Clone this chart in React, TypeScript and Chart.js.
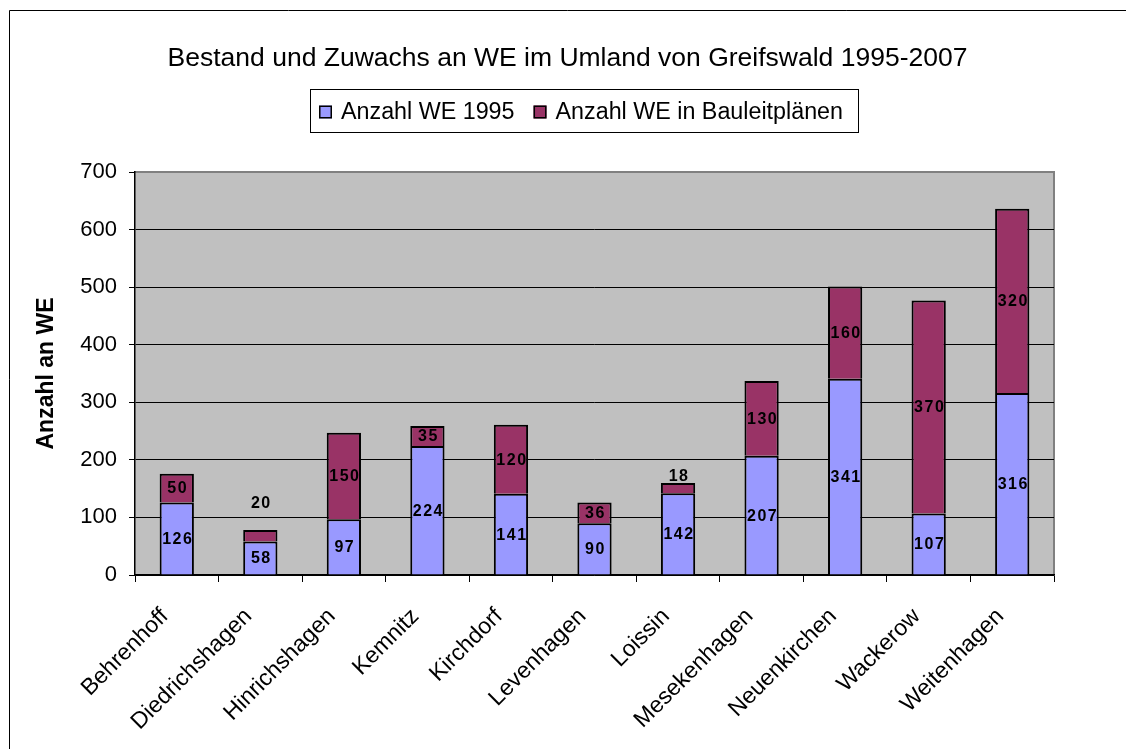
import React, { useEffect, useRef } from 'react';
import { Chart, registerables } from 'chart.js';

Chart.register(...registerables);

const categories = [
  'Behrenhoff',
  'Diedrichshagen',
  'Hinrichshagen',
  'Kemnitz',
  'Kirchdorf',
  'Levenhagen',
  'Loissin',
  'Mesekenhagen',
  'Neuenkirchen',
  'Wackerow',
  'Weitenhagen',
];
const we1995 = [126, 58, 97, 224, 141, 90, 142, 207, 341, 107, 316];
const weBauleit = [50, 20, 150, 35, 120, 36, 18, 130, 160, 370, 320];
const seriesNames = ['Anzahl WE 1995', 'Anzahl WE in Bauleitplänen'];
const yTicks = [0, 100, 200, 300, 400, 500, 600, 700];
const chartTitle = 'Bestand und Zuwachs an WE im Umland von Greifswald 1995-2007';
const yTitle = 'Anzahl an WE';

const FONT = "'Liberation Sans', Arial, sans-serif";

// vertical pixel shifts for labels that Excel moved out of tiny segments
const labelShift: Record<string, number> = { '1-1': -33, '1-6': -12 };

const framePlugin = {
  id: 'framePlugin',
  beforeDraw(chart: any) {
    const { ctx, chartArea: a } = chart;
    ctx.save();
    ctx.fillStyle = '#ffffff';
    ctx.fillRect(0, 0, chart.width, chart.height);
    ctx.strokeStyle = '#000000';
    ctx.lineWidth = 1;
    ctx.beginPath();
    ctx.moveTo(9.5, chart.height);
    ctx.lineTo(9.5, 10.5);
    ctx.lineTo(chart.width, 10.5);
    ctx.stroke();
    ctx.fillStyle = '#C0C0C0';
    ctx.fillRect(a.left, a.top, a.right - a.left, a.bottom - a.top);
    ctx.strokeStyle = '#808080';
    ctx.lineWidth = 2;
    ctx.beginPath();
    ctx.moveTo(a.left, a.top);
    ctx.lineTo(a.right, a.top);
    ctx.lineTo(a.right, a.bottom);
    ctx.stroke();
    ctx.restore();
  },
};

const legendPlugin = {
  id: 'legendPlugin',
  afterDraw(chart: any) {
    const ctx = chart.ctx;
    ctx.save();
    ctx.font = `23.3px ${FONT}`;
    const items = chart.data.datasets.map((ds: any) => ({
      text: ds.label,
      color: ds.backgroundColor,
      w: ctx.measureText(ds.label).width,
    }));
    const padL = 9, sq = 13, gap = 9, between = 19, padR = 15;
    const total =
      padL + padR + items.reduce((s: number, it: any) => s + sq + gap + it.w, 0) + between * (items.length - 1);
    const top = 89, h = 43, cy = 111.5;
    let x = 310;
    ctx.fillStyle = '#ffffff';
    ctx.fillRect(x, top, total, h);
    ctx.strokeStyle = '#000000';
    ctx.lineWidth = 1;
    ctx.strokeRect(x + 0.5, top + 0.5, Math.round(total), h);
    x += padL;
    items.forEach((it: any) => {
      ctx.fillStyle = it.color;
      ctx.fillRect(x, cy - 6, sq, sq);
      ctx.strokeStyle = '#000000';
      ctx.lineWidth = 1.5;
      ctx.strokeRect(x + 0.75, cy - 6 + 0.75, sq - 1.5, sq - 1.5);
      x += sq + gap;
      ctx.fillStyle = '#000000';
      ctx.textAlign = 'left';
      ctx.textBaseline = 'middle';
      ctx.fillText(it.text, x, cy + 1);
      x += it.w + between;
    });
    ctx.restore();
  },
};

const dataLabelPlugin = {
  id: 'dataLabelPlugin',
  afterDatasetsDraw(chart: any) {
    const ctx = chart.ctx;
    ctx.save();
    ctx.font = `bold 16px ${FONT}`;
    (ctx as any).letterSpacing = '1.5px';
    ctx.fillStyle = '#000000';
    ctx.textAlign = 'center';
    ctx.textBaseline = 'middle';
    chart.data.datasets.forEach((ds: any, di: number) => {
      const meta = chart.getDatasetMeta(di);
      meta.data.forEach((bar: any, i: number) => {
        const { x, y, base } = bar.getProps(['x', 'y', 'base'], true);
        const cy = (y + base) / 2 + (labelShift[`${di}-${i}`] || 0);
        ctx.fillText(String(ds.data[i]), x + 1, cy + 1);
      });
    });
    ctx.restore();
  },
};

export default function App() {
  const canvasRef = useRef<HTMLCanvasElement | null>(null);

  useEffect(() => {
    if (!canvasRef.current) return;
    const chart = new Chart(canvasRef.current, {
      type: 'bar',
      data: {
        labels: categories,
        datasets: [
          {
            label: seriesNames[0],
            data: we1995,
            backgroundColor: '#9999FF',
            borderColor: '#000000',
            borderWidth: 2,
            categoryPercentage: 1,
            barPercentage: 0.41,
          },
          {
            label: seriesNames[1],
            data: weBauleit,
            backgroundColor: '#993366',
            borderColor: '#000000',
            borderWidth: 2,
            categoryPercentage: 1,
            barPercentage: 0.41,
          },
        ],
      },
      options: {
        responsive: false,
        animation: false,
        layout: { padding: { left: 9, right: 0, top: 0, bottom: 0 } },
        plugins: {
          legend: { display: false },
          tooltip: { enabled: false },
          title: {
            display: true,
            text: chartTitle,
            color: '#000000',
            font: { family: FONT, size: 26.5, weight: 'normal' },
            padding: { top: 43, bottom: 97.2 },
          },
        },
        scales: {
          x: {
            stacked: true,
            grid: {
              display: true,
              drawOnChartArea: false,
              drawTicks: true,
              tickLength: 7,
              color: '#000000',
              offset: true,
            },
            border: { display: true, color: '#000000', width: 1.5 },
            ticks: {
              color: '#000000',
              font: { family: FONT, size: 23 },
              maxRotation: 45,
              minRotation: 45,
              padding: 21,
              labelOffset: -12,
              autoSkip: false,
            },
            afterFit: (s: any) => {
              s.height = 174;
            },
          },
          y: {
            stacked: true,
            min: 0,
            max: 700,
            afterBuildTicks: (s: any) => {
              s.ticks = yTicks.map((v) => ({ value: v }));
            },
            ticks: {
              color: '#000000',
              font: { family: FONT, size: 22 },
              padding: 12,
            },
            grid: {
              color: (c: any) => (c.tick && c.tick.value === 700 ? 'rgba(0,0,0,0)' : '#000000'),
              tickColor: '#000000',
              tickLength: 6,
              lineWidth: 1,
            },
            border: { display: true, color: '#000000', width: 1.5 },
            title: {
              display: true,
              text: yTitle,
              color: '#000000',
              font: { family: FONT, size: 23, weight: 'bold' },
              padding: { top: 24, bottom: 0 },
            },
            afterFit: (s: any) => {
              s.width = 126;
            },
          },
          y2: {
            position: 'right',
            display: true,
            grid: { display: false, drawOnChartArea: false },
            border: { display: false },
            ticks: { display: false },
            afterFit: (s: any) => {
              s.width = 72;
            },
          },
        },
      },
      plugins: [framePlugin, legendPlugin, dataLabelPlugin],
    } as any);
    return () => chart.destroy();
  }, []);

  return (
    <div style={{ position: 'fixed', left: 0, top: 0, width: 1126, height: 749, background: '#fff' }}>
      <canvas ref={canvasRef} width={1126} height={749} style={{ width: 1126, height: 749, display: 'block' }} />
    </div>
  );
}
